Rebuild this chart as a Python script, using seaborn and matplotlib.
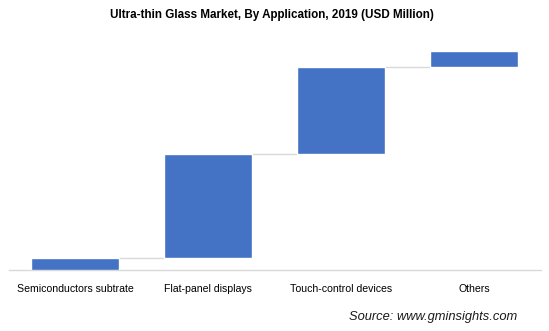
import matplotlib
matplotlib.use("Agg")
import matplotlib.pyplot as plt
import seaborn as sns
import numpy as np
import pandas as pd

categories = ["Semiconductors subtrate", "Flat-panel displays", "Touch-control devices", "Others"]
increments = [12.5, 104, 87, 15.5]
title = "Ultra-thin Glass Market, By Application, 2019 (USD Million)"
source = "Source: www.gminsights.com"

sns.set_theme(style="white")
plt.rcParams['font.family'] = ['Liberation Sans', 'DejaVu Sans']

inc = np.array(increments, dtype=float)
ends = np.cumsum(inc)
starts = ends - inc
df = pd.DataFrame({"cat": categories, "inc": inc})

fig = plt.figure(figsize=(5.49, 3.31), dpi=100)
ax = fig.add_axes([8.5/549, 61/331, 532/549, 230/331])

bw = 0.66
sns.barplot(data=df, x="cat", y="inc", order=categories, color="#4472C4",
            saturation=1, width=bw, bottom=starts, ax=ax, zorder=3)

# connector lines
for i in range(len(categories) - 1):
    ax.plot([i + bw/2, i + 1 - bw/2], [ends[i], ends[i]], color="#d9d9d9", lw=1, zorder=2)

ax.set_xlim(-0.5, len(categories) - 0.5)
ax.set_ylim(0, 230)
ax.set_xlabel("")
ax.set_ylabel("")
ax.set_yticks([])
for s in ["top", "right", "left"]:
    ax.spines[s].set_visible(False)
ax.spines["bottom"].set_color("#d9d9d9")
ax.spines["bottom"].set_linewidth(1)
ax.tick_params(axis="x", length=0, pad=10, labelsize=7.6, colors="#000000")

fig.text(271.5/549, 1 - 15/331, title, ha="center", va="center", fontsize=8.4,
         fontweight="bold", color="#000000")
fig.text(517/549, 1 - 317/331, source, ha="right", va="center", fontsize=9.3,
         style="italic", color="#1a1a1a")

fig.savefig("out.png", dpi=100)
